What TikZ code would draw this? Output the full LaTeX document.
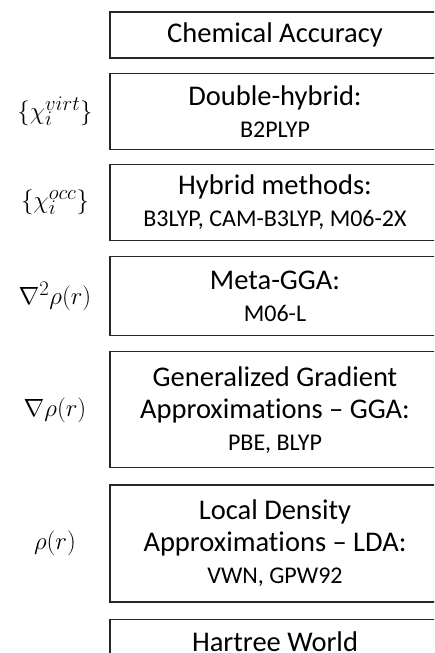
\documentclass[tikz,border=0pt]{standalone}
\usepackage{fontspec}
\setmainfont[Ligatures={TeX,NoCommon}]{Carlito}
\usetikzlibrary{positioning}

\begin{document}
\begin{tikzpicture}[x=1pt, y=-1pt,
        level/.style={draw=black!85, line width=1.2pt, minimum width=330pt,
          align=center, inner sep=0pt, font=\fontsize{28.5}{32}\selectfont},
        density/.style={font=\fontsize{31}{34}\selectfont}]

    \useasboundingbox (0,0) rectangle (434,653);
    \clip (0,0) rectangle (434,653);

    % rungs of the ladder
    \node[level, minimum height=46pt] (chem) at (275,35) {Chemical Accuracy};
    \node[level, minimum height=76pt, below=14pt of chem] (dh)
        {Double-hybrid:\\ {\fontsize{24}{32}\selectfont B2PLYP}};
    \node[level, minimum height=76pt, below=14pt of dh] (hyb)
        {Hybrid methods:\\ {\fontsize{24}{32}\selectfont B3LYP, CAM-B3LYP, M06-2X}};
    \node[level, minimum height=79pt, below=15pt of hyb] (meta)
        {Meta-GGA:\\ {\fontsize{24}{32}\selectfont M06-L}};
    \node[level, minimum height=116pt, below=15pt of meta] (gga)
        {Generalized Gradient\\ Approximations -- GGA:\\ {\fontsize{24}{32}\selectfont PBE, BLYP}};
    \node[level, minimum height=117pt, below=16pt of gga] (lda)
        {Local Density\\ Approximations -- LDA:\\ {\fontsize{24}{32}\selectfont VWN, GPW92}};
    \node[level, minimum height=46pt, below=16pt of lda] (hartree) {Hartree World};

    % ingredients
    \coordinate (lab) at (55,0);
    \node[density] (virt) at (lab |- dh) {$\{\chi_i^{virt}\}$};
    \node[density] (occ) at (lab |- hyb) {$\{\chi_i^{occ}\}$};
    \node[density] (lap) at (lab |- meta) {$\nabla^2\rho(r)$};
    \node[density] (grad) at (lab |- gga) {$\nabla\rho(r)$};
    \node[density] (rho) at (lab |- lda) {$\rho(r)$};

\end{tikzpicture}
\end{document}
